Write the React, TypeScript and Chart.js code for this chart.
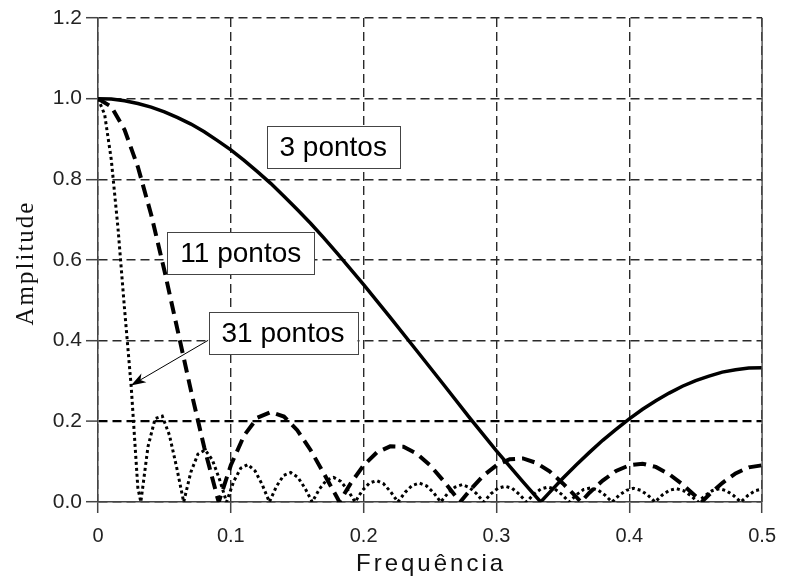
import React, { useEffect, useRef } from 'react';
import { Chart, registerables } from 'chart.js';

Chart.register(...registerables);

const FONT = '"Liberation Sans", Arial, sans-serif';
const SERIF = '"Liberation Serif", "Times New Roman", serif';

// Series "3 pontos"
const freq3 = [0, 0.01, 0.02, 0.03, 0.04, 0.05, 0.06, 0.07, 0.08, 0.09, 0.1, 0.11, 0.12, 0.13, 0.14, 0.15, 0.16, 0.17, 0.18, 0.2, 0.22, 0.24, 0.26, 0.28, 0.3, 0.32, 0.3333, 0.34, 0.35, 0.36, 0.37, 0.38, 0.39, 0.4, 0.41, 0.42, 0.43, 0.44, 0.45, 0.46, 0.47, 0.48, 0.49, 0.5];
const amp3 = [1, 0.999, 0.995, 0.988, 0.979, 0.967, 0.953, 0.937, 0.918, 0.896, 0.873, 0.847, 0.819, 0.79, 0.758, 0.725, 0.691, 0.655, 0.617, 0.539, 0.458, 0.375, 0.292, 0.208, 0.127, 0.05, 0, 0.024, 0.059, 0.092, 0.123, 0.153, 0.18, 0.206, 0.23, 0.251, 0.27, 0.287, 0.301, 0.312, 0.322, 0.328, 0.332, 0.333];

// Series "11 pontos"
const freq11 = [0, 0.01, 0.02, 0.03, 0.04, 0.05, 0.06, 0.07, 0.08, 0.09, 0.0909, 0.1, 0.11, 0.12, 0.13, 0.14, 0.15, 0.16, 0.17, 0.18, 0.1818, 0.19, 0.2, 0.21, 0.22, 0.23, 0.24, 0.25, 0.26, 0.27, 0.2727, 0.28, 0.29, 0.3, 0.31, 0.32, 0.33, 0.34, 0.35, 0.36, 0.3636, 0.37, 0.38, 0.39, 0.4, 0.41, 0.42, 0.43, 0.44, 0.45, 0.4545, 0.46, 0.47, 0.48, 0.49, 0.5];
const amp11 = [1, 0.98, 0.923, 0.831, 0.713, 0.574, 0.425, 0.276, 0.135, 0.01, 0, 0.091, 0.165, 0.209, 0.223, 0.212, 0.178, 0.129, 0.071, 0.011, 0, 0.045, 0.091, 0.123, 0.138, 0.137, 0.12, 0.091, 0.053, 0.011, 0, 0.029, 0.065, 0.091, 0.106, 0.108, 0.097, 0.076, 0.046, 0.013, 0, 0.023, 0.053, 0.077, 0.091, 0.095, 0.087, 0.069, 0.044, 0.014, 0, 0.018, 0.047, 0.071, 0.086, 0.091];

// Series "31 pontos"
const freq31 = [0, 0.005, 0.01, 0.015, 0.02, 0.025, 0.03,
  0.03226, 0.03763, 0.04301, 0.04839, 0.05376, 0.05914, 0.06452, 0.06989, 0.07527, 0.08065, 0.08602, 0.0914,
  0.09677, 0.10215, 0.10753, 0.1129, 0.11828, 0.12366, 0.12903, 0.13441, 0.13978, 0.14516, 0.15054, 0.15591,
  0.16129, 0.16667, 0.17204, 0.17742, 0.1828, 0.18817, 0.19355, 0.19892, 0.2043, 0.20968, 0.21505, 0.22043,
  0.22581, 0.23118, 0.23656, 0.24194, 0.24731, 0.25269, 0.25806, 0.26344, 0.26882, 0.27419, 0.27957, 0.28495,
  0.29032, 0.2957, 0.30108, 0.30645, 0.31183, 0.3172, 0.32258, 0.32796, 0.33333, 0.33871, 0.34409, 0.34946,
  0.35484, 0.36022, 0.36559, 0.37097, 0.37634, 0.38172, 0.3871, 0.39247, 0.39785, 0.40323, 0.4086, 0.41398,
  0.41935, 0.42473, 0.43011, 0.43548, 0.44086, 0.44624, 0.45161, 0.45699, 0.46237, 0.46774, 0.47312, 0.47849,
  0.48387, 0.48925, 0.49462, 0.5];
const amp31 = [1, 0.961, 0.849, 0.681, 0.478, 0.286, 0.035,
  0, 0.137, 0.207, 0.213, 0.166, 0.087, 0, 0.074, 0.119, 0.129, 0.105, 0.057,
  0, 0.051, 0.084, 0.093, 0.077, 0.043, 0, 0.039, 0.066, 0.073, 0.061, 0.034,
  0, 0.032, 0.054, 0.061, 0.051, 0.029, 0, 0.028, 0.047, 0.053, 0.045, 0.025,
  0, 0.024, 0.041, 0.047, 0.04, 0.023, 0, 0.022, 0.037, 0.043, 0.036, 0.021,
  0, 0.02, 0.034, 0.039, 0.034, 0.019, 0, 0.019, 0.032, 0.037, 0.032, 0.018,
  0, 0.018, 0.031, 0.035, 0.03, 0.017, 0, 0.017, 0.029, 0.034, 0.029, 0.017,
  0, 0.017, 0.029, 0.033, 0.028, 0.016, 0, 0.016, 0.028, 0.033, 0.028, 0.016,
  0, 0.016, 0.028, 0.032];

// Axis ticks
const xTicks = [0, 0.1, 0.2, 0.3, 0.4, 0.5];
const yTicks = [0, 0.2, 0.4, 0.6, 0.8, 1.0, 1.2];

// Annotation labels (anchored in data units)
const labelTexts = ['3 pontos', '11 pontos', '31 pontos'];
const labelFreq = [0.1771, 0.1075, 0.1393];
const labelAmp = [0.88, 0.617, 0.419];
const arrowFrom = { f: 0.083, v: 0.401 };
const arrowTo = { f: 0.0248, v: 0.289 };

const toXY = (xs: number[], ys: number[]) => xs.map((x, i) => ({ x, y: ys[i] }));

const decorPlugin = {
  id: 'decor',
  afterDraw(chart: any) {
    const { ctx, chartArea: a, scales } = chart;
    const xs = scales.x;
    const ys = scales.y;
    ctx.save();
    // right frame line
    ctx.setLineDash([]);
    ctx.strokeStyle = '#555';
    ctx.lineWidth = 1.5;
    ctx.beginPath();
    ctx.moveTo(a.right, a.top);
    ctx.lineTo(a.right, a.bottom);
    ctx.stroke();

    // arrow
    const x1 = xs.getPixelForValue(arrowFrom.f);
    const y1 = ys.getPixelForValue(arrowFrom.v);
    const x2 = xs.getPixelForValue(arrowTo.f);
    const y2 = ys.getPixelForValue(arrowTo.v);
    ctx.strokeStyle = '#000';
    ctx.lineWidth = 1;
    ctx.beginPath();
    ctx.moveTo(x1, y1);
    ctx.lineTo(x2, y2);
    ctx.stroke();
    const ang = Math.atan2(y2 - y1, x2 - x1);
    const len = 15;
    const hw = 5;
    const bx = x2 - len * Math.cos(ang);
    const by = y2 - len * Math.sin(ang);
    ctx.fillStyle = '#000';
    ctx.beginPath();
    ctx.moveTo(x2, y2);
    ctx.lineTo(bx + hw * Math.sin(ang), by - hw * Math.cos(ang));
    ctx.lineTo(x2 - (len - 4) * Math.cos(ang), y2 - (len - 4) * Math.sin(ang));
    ctx.lineTo(bx - hw * Math.sin(ang), by + hw * Math.cos(ang));
    ctx.closePath();
    ctx.fill();

    // label boxes
    ctx.font = `28px ${FONT}`;
    ctx.textAlign = 'center';
    ctx.textBaseline = 'middle';
    labelTexts.forEach((t, i) => {
      const cx = xs.getPixelForValue(labelFreq[i]);
      const cy = ys.getPixelForValue(labelAmp[i]);
      const w = ctx.measureText(t).width + 26;
      const h = 42;
      ctx.fillStyle = '#fff';
      ctx.fillRect(cx - w / 2, cy - h / 2, w, h);
      ctx.strokeStyle = '#444';
      ctx.lineWidth = 1;
      ctx.strokeRect(Math.round(cx - w / 2) + 0.5, Math.round(cy - h / 2) + 0.5, Math.round(w), h);
      ctx.fillStyle = '#000';
      ctx.fillText(t, cx, cy + 1);
    });

    // axis titles
    ctx.fillStyle = '#111';
    ctx.font = `24px ${FONT}`;
    (ctx as any).letterSpacing = '3px';
    ctx.textAlign = 'center';
    ctx.textBaseline = 'middle';
    ctx.fillText('Frequência', (a.left + a.right) / 2 + 1, a.bottom + 62);

    ctx.font = `25px ${SERIF}`;
    (ctx as any).letterSpacing = '2px';
    ctx.translate(26, (a.top + a.bottom) / 2 + 3);
    ctx.rotate(-Math.PI / 2);
    ctx.fillText('Amplitude', 0, 0);
    (ctx as any).letterSpacing = '0px';
    ctx.restore();
  },
};

export default function App() {
  const ref = useRef<HTMLCanvasElement>(null);
  useEffect(() => {
    document.body.style.margin = '0';
    const canvas = ref.current;
    if (!canvas) return;
    const chart = new Chart(canvas, {
      type: 'line',
      data: {
        datasets: [
          {
            label: '3 pontos',
            data: toXY(freq3, amp3),
            borderColor: '#000',
            borderWidth: 3.5,
            pointRadius: 0,
            fill: false,
          },
          {
            label: '11 pontos',
            data: toXY(freq11, amp11),
            borderColor: '#000',
            borderWidth: 4,
            borderDash: [13, 7],
            pointRadius: 0,
            fill: false,
          },
          {
            label: '31 pontos',
            data: toXY(freq31, amp31),
            borderColor: '#000',
            borderWidth: 3,
            borderDash: [3, 3],
            pointRadius: 0,
            fill: false,
          },
        ],
      },
      options: {
        animation: false,
        responsive: true,
        maintainAspectRatio: false,
        layout: { padding: { top: 18, right: 15, left: 0, bottom: 0 } },
        plugins: { legend: { display: false }, tooltip: { enabled: false } },
        scales: {
          x: {
            type: 'linear',
            min: 0,
            max: 0.5,
            afterFit: (s: any) => { s.height = 77; },
            afterBuildTicks: (s: any) => { s.ticks = xTicks.map((v) => ({ value: v })); },
            ticks: {
              autoSkip: false,
              maxRotation: 0,
              padding: 11,
              color: '#222',
              font: { family: FONT, size: 20 },
              callback: (v: any) => (Number(v) === 0 ? '0' : Number(v).toFixed(1)),
            },
            grid: {
              color: '#2a2a2a',
              lineWidth: 1.4,
              tickLength: 11,
              tickColor: '#444',
              tickWidth: 1.5,
            },
            border: { display: true, color: '#444', width: 1.5, dash: [9, 5] },
          },
          y: {
            type: 'linear',
            min: 0,
            max: 1.2,
            afterFit: (s: any) => { s.width = 98; },
            afterBuildTicks: (s: any) => { s.ticks = yTicks.map((v) => ({ value: v })); },
            ticks: {
              padding: 4,
              color: '#222',
              font: { family: FONT, size: 21 },
              callback: (v: any) => Number(v).toFixed(1),
            },
            grid: {
              color: (c: any) => (c.tick && Math.abs(c.tick.value - 0.2) < 1e-6 ? '#000' : '#2a2a2a'),
              lineWidth: (c: any) => (c.tick && Math.abs(c.tick.value - 0.2) < 1e-6 ? 2.2 : 1.4),
              tickLength: 12,
              tickColor: '#444',
              tickWidth: 1.5,
            },
            border: { display: true, color: '#444', width: 1.5, dash: [9, 5] },
          },
        },
      },
      plugins: [decorPlugin],
    });
    return () => chart.destroy();
  }, []);
  return (
    <div style={{ position: 'fixed', left: 0, top: 0, width: 787, height: 579 }}>
      <canvas ref={ref} />
    </div>
  );
}
